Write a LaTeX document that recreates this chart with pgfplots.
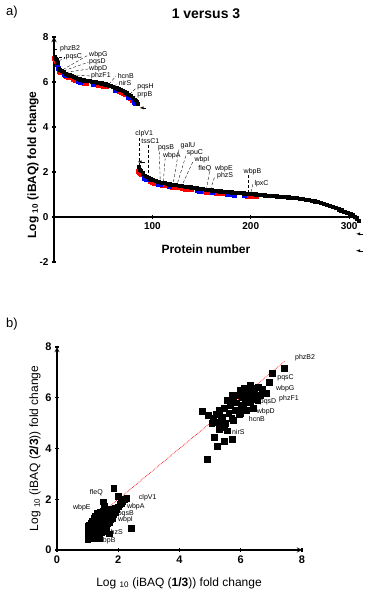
\documentclass[border=0pt]{standalone}
\usepackage{fontspec}
\setmainfont{Liberation Sans}
\usepackage{pgfplots}
\pgfplotsset{compat=1.18}

% small gene labels and dashed leaders
\newcommand{\lab}[3]{\node[font=\fontsize{7}{8}\selectfont, anchor=west, inner sep=0.6pt] at (axis cs:#1,#2) {#3};}
\newcommand{\lead}[4]{\draw[densely dashed, line width=0.35pt] (axis cs:#1,#2) -- (axis cs:#3,#4);}

\pgfplotsset{
  panel/.style={
    scale only axis, clip=false,
    axis line style={-, line width=1.3pt},
    tick align=outside, major tick length=4pt,
    tick style={line width=1.2pt, black},
    /pgf/number format/assume math mode=true,
  }
}

\begin{document}
\begin{tikzpicture}
\useasboundingbox (0,0) rectangle (364pt,593pt);

\node[font=\fontsize{13}{15}\selectfont] at (12pt,581pt) {a)};
\node[font=\fontsize{14}{16}\selectfont\bfseries] at (206pt,579pt) {1 versus 3};
\node[font=\fontsize{13}{15}\selectfont] at (12pt,269pt) {b)};

% ---------------- panel a
\begin{axis}[panel,
  at={(54pt,331pt)}, anchor=south west,
  width=305pt, height=225pt,
  xmin=0, xmax=310, ymin=-2, ymax=8,
  axis x line=middle, axis y line=left,
  xtick={100,200,300}, ytick={-2,0,2,4,6,8},
  hide obscured y ticks=false,
  ticklabel style={font=\fontsize{10}{12}\selectfont\bfseries},
]
\addplot[only marks, mark=square*, mark size=2.1pt, red] coordinates {
(0.5,7.05) (1.5,7.0) (2.5,6.95) (5,6.5) (6,6.45) (7,6.42) (13,6.25) (15,6.22)
(20,6.12) (22,6.08) (29,5.98) (31,5.96) (33,5.95) (45,5.88) (47,5.86) (50,5.83)
(53,5.8) (66,5.58) (68,5.55) (70,5.5) (72,5.45) (78,5.28) (80,5.2)
(86,2.05) (87,2.0) (88,1.95) (89,1.9) (98,1.58) (100,1.54) (102,1.52) (104,1.5)
(110,1.43) (113,1.41) (120,1.35) (122,1.33) (125,1.31) (130,1.28) (133,1.26)
(136,1.24) (139,1.22) (152,1.13) (155,1.12) (158,1.11) (165,1.07) (168,1.06)
(171,1.04) (196,0.95) (199,0.94) (202,0.93) (205,0.91)
};
\addplot[only marks, mark=square*, mark size=2.1pt, blue] coordinates {
(3.5,6.8) (4.5,6.6) (10,6.35) (11,6.3) (25,6.03) (27,6.01) (40,5.92) (62,5.65)
(76,5.35) (82,5.12) (83,5.05)
(92,1.75) (94,1.68) (106,1.47) (108,1.45) (117,1.37) (146,1.18) (148,1.16)
(161,1.09) (176,1.03) (179,1.02) (183,0.99) (193,0.96)
};
\addplot[only marks, mark=square*, mark size=1.6pt, black] coordinates {
(1,7.1) (2,7.05) (3,7.0) (4,6.85) (5,6.6) (6,6.55) (8,6.5) (10,6.45) (12,6.38)
(14,6.33) (16,6.3) (18,6.27) (20,6.22) (22,6.18) (24,6.15) (26,6.12) (28,6.1)
(30,6.08) (32,6.06) (34,6.05) (36,6.04) (38,6.03) (40,6.02) (42,6.0) (44,5.98)
(46,5.96) (48,5.95) (50,5.93) (52,5.9) (54,5.88) (56,5.85) (58,5.82) (60,5.78)
(62,5.75) (64,5.72) (66,5.68) (68,5.65) (70,5.6) (72,5.55) (74,5.5) (76,5.45)
(78,5.38) (80,5.3) (82,5.22) (84,5.12) (85,5.05)
(86,2.25) (87,2.1) (88,2.05) (90,1.95) (92,1.85) (94,1.78) (96,1.72) (98,1.68)
(100,1.64) (103,1.6) (106,1.57) (109,1.54) (112,1.51) (115,1.48) (118,1.46)
(121,1.44) (124,1.42) (127,1.4) (130,1.38) (133,1.36) (136,1.34) (139,1.32)
(142,1.3) (145,1.28) (148,1.26) (151,1.24) (154,1.22) (157,1.21) (160,1.19)
(163,1.18) (166,1.17) (169,1.15) (172,1.14) (175,1.13) (178,1.12) (181,1.1)
(184,1.09) (187,1.08) (190,1.07) (193,1.06) (196,1.05) (199,1.04) (202,1.03)
(205,1.01) (208,1.0) (211,0.99) (214,0.97) (217,0.96) (220,0.95) (223,0.93)
(226,0.92) (229,0.91) (232,0.9) (235,0.89) (238,0.88) (241,0.87) (244,0.85)
(247,0.84) (250,0.82) (253,0.8) (256,0.78) (259,0.76) (262,0.73) (265,0.7)
(268,0.67) (271,0.63) (274,0.59) (277,0.55) (280,0.5) (283,0.45) (286,0.4)
(289,0.35) (292,0.3) (295,0.25) (298,0.2) (301,0.14) (304,0.08) (306,0.03)
(308,-0.05) (310,-0.15)
};
\lead{0.5}{7.45}{5.5}{7.45} \lab{5.5}{7.5}{phzB2}
\lead{5}{7.1}{11}{7.1} \lead{5}{6.95}{11}{7.05} \lab{11}{7.1}{pqsC}
\lead{9}{6.55}{35}{7.2} \lab{35}{7.2}{wbpG}
\lead{10}{6.5}{35}{6.88} \lab{35}{6.88}{pqsD}
\lead{12}{6.42}{35}{6.58} \lab{35}{6.58}{wbpD}
\lead{18}{6.3}{37}{6.27} \lab{37}{6.27}{phzF1}
\lead{56}{5.9}{63}{6.27} \lab{64}{6.27}{hcnB}
\lead{61}{5.8}{65}{5.95} \lab{65}{5.95}{nirS}
\lead{77}{5.45}{84}{5.75} \lab{84}{5.8}{pqsH}
\lead{80}{5.32}{84}{5.4} \lab{84}{5.42}{prpB}
\lead{87}{3.5}{87}{2.2} \lab{82}{3.68}{clpV1}
\lead{96}{3.22}{96}{1.74} \lab{88}{3.38}{tssC1}
\lead{107}{2.92}{108}{1.56} \lab{105}{3.07}{pqsB}
\lead{113}{2.6}{111}{1.53} \lab{110}{2.72}{wbpA}
\lead{127}{3.0}{121}{1.46} \lab{128}{3.15}{galU}
\lead{134}{2.72}{125}{1.43} \lab{134}{2.87}{spuC}
\lead{141}{2.44}{130}{1.4} \lab{142}{2.55}{wbpI}
\lead{158}{2.0}{155}{1.24} \lab{146}{2.13}{fleQ}
\lead{163}{1.75}{159}{1.22} \lab{163}{2.13}{wbpE}
\lab{165}{1.82}{phzS}
\lead{197}{1.85}{197}{1.07} \lab{192}{2.0}{wbpB}
\lead{202}{1.45}{200}{1.06} \lab{203}{1.5}{lpxC}
\draw[-latex, line width=0.4pt] (axis cs:94,4.85) -- (axis cs:87,4.85);
\draw[-latex, line width=0.4pt] (axis cs:92,2.45) -- (axis cs:85,2.45);
\draw[-latex, line width=0.4pt] (axis cs:314,-0.75) -- (axis cs:307,-0.75);
\draw[-latex, line width=0.4pt] (axis cs:314,-1.5) -- (axis cs:307,-1.5);
\node[rotate=90, font=\fontsize{12}{14}\selectfont\bfseries] at (axis description cs:-0.069,0.431)
  {Log \textsubscript{10} (iBAQ) fold change};
\node[font=\fontsize{12}{14}\selectfont\bfseries] at (axis description cs:0.498,0.058) {Protein number};
\end{axis}

% ---------------- panel b
\begin{axis}[panel,
  at={(57pt,43pt)}, anchor=south west,
  width=245pt, height=203pt,
  xmin=0, xmax=8, ymin=0, ymax=8,
  axis x line=bottom, axis y line=left,
  xtick={0,2,4,6,8}, ytick={0,2,4,6,8},
  ticklabel style={font=\fontsize{11}{13}\selectfont\bfseries},
]
\addplot[only marks, mark=square*, mark size=2.8pt, black] coordinates {
(1.0,0.4) (1.0,0.55) (1.0,0.7) (1.0,0.85) (1.0,0.95) (1.05,0.5) (1.05,0.65)
(1.05,0.8) (1.05,1.0) (1.1,0.45) (1.1,0.6) (1.1,0.75) (1.1,0.9) (1.1,1.05)
(1.15,0.55) (1.15,0.7) (1.15,0.85) (1.15,1.0) (1.15,1.15) (1.2,0.5) (1.2,0.65)
(1.2,0.8) (1.2,0.95) (1.2,1.1) (1.2,1.25) (1.25,0.45) (1.25,0.6) (1.25,0.75)
(1.25,0.9) (1.25,1.05) (1.25,1.2) (1.25,1.35) (1.3,0.55) (1.3,0.7) (1.3,0.85)
(1.3,1.0) (1.3,1.15) (1.3,1.3) (1.3,1.45) (1.35,0.65) (1.35,0.8) (1.35,0.95)
(1.35,1.1) (1.35,1.25) (1.35,1.4) (1.4,0.45) (1.4,0.6) (1.4,0.75) (1.4,0.9)
(1.4,1.05) (1.4,1.2) (1.4,1.35) (1.4,1.5) (1.45,0.7) (1.45,0.85) (1.45,1.0)
(1.45,1.15) (1.45,1.3) (1.45,1.45) (1.5,0.8) (1.5,0.95) (1.5,1.1) (1.5,1.25)
(1.5,1.4) (1.5,1.55) (1.5,1.9) (1.55,0.9) (1.55,1.05) (1.55,1.2) (1.55,1.35)
(1.55,1.5) (1.55,1.75) (1.6,0.75) (1.6,1.0) (1.6,1.15) (1.6,1.3) (1.6,1.45)
(1.6,1.6) (1.65,1.05) (1.65,1.2) (1.65,1.35) (1.65,1.5) (1.7,0.65) (1.7,1.1)
(1.7,1.25) (1.7,1.4) (1.7,1.55) (1.75,1.2) (1.75,1.35) (1.75,1.5) (1.8,1.25)
(1.8,1.45) (1.8,1.6) (1.85,2.44) (1.85,1.4) (1.9,1.5) (1.9,1.65) (1.95,1.6)
(2.0,1.7) (2.0,2.13) (2.05,1.8) (2.1,1.85) (2.15,1.9) (2.2,2.0) (2.28,2.05)
(2.42,0.87)
(4.74,5.47) (4.93,5.31) (5.1,5.2) (5.05,5.0) (5.2,5.35) (5.26,5.04) (5.39,4.84)
(5.3,5.5) (5.4,5.25) (5.45,5.6) (5.5,5.0) (5.56,5.9) (5.6,5.4) (5.65,5.7)
(5.7,5.2) (5.75,5.12) (5.75,5.95) (5.8,5.5) (5.85,5.8) (5.88,5.51) (5.9,6.1)
(5.95,5.35) (5.98,6.3) (6.0,5.7) (6.05,6.0) (6.08,5.63) (6.1,6.25) (6.15,5.85)
(6.2,6.38) (6.2,5.5) (6.25,6.1) (6.3,5.83) (6.35,6.3) (6.4,5.95) (6.45,6.2)
(6.5,6.4) (6.57,6.42) (6.63,6.1) (6.55,5.9) (6.7,6.35) (6.83,6.18) (6.93,6.61)
(7.03,6.97) (7.42,7.17) (5.13,4.45) (5.23,4.09) (5.46,4.29) (5.72,4.37)
(4.9,3.58) (5.3,4.75) (5.45,4.95) (5.55,4.7) (5.35,5.1) (6.0,5.4) (6.4,5.6)
(5.7,6.1) (6.3,6.5) (6.1,6.4)
};
\addplot[red, densely dotted, line width=0.7pt] coordinates {(1,1) (7.45,7.45)};
\lab{7.75}{7.56}{phzB2}
\lab{7.17}{6.77}{pqsC}
\lab{7.13}{6.34}{wbpG}
\lab{7.23}{5.98}{phzF1}
\lab{6.6}{5.83}{pqsD}
\lab{6.5}{5.47}{wbpD}
\lab{6.24}{5.16}{hcnB}
\lab{5.69}{4.65}{nirS}
\lab{1.05}{2.28}{fleQ}
\lab{2.65}{2.08}{clpV1}
\lab{0.5}{1.65}{wbpE}
\lab{2.26}{1.69}{wbpA}
\lab{1.96}{1.42}{pqsB}
\lab{1.97}{1.18}{wbpI}
\lab{1.6}{0.67}{phzS}
\lab{1.31}{0.35}{wbpB}
\node[rotate=90, font=\fontsize{12}{14}\selectfont] at (axis description cs:-0.09,0.5)
  {Log \textsubscript{10} (iBAQ (\textbf{2/3})) fold change};
\node[font=\fontsize{12}{14}\selectfont] at (axis description cs:0.498,-0.163)
  {Log \textsubscript{10} (iBAQ (\textbf{1/3})) fold change};
\end{axis}
\end{tikzpicture}
\end{document}
